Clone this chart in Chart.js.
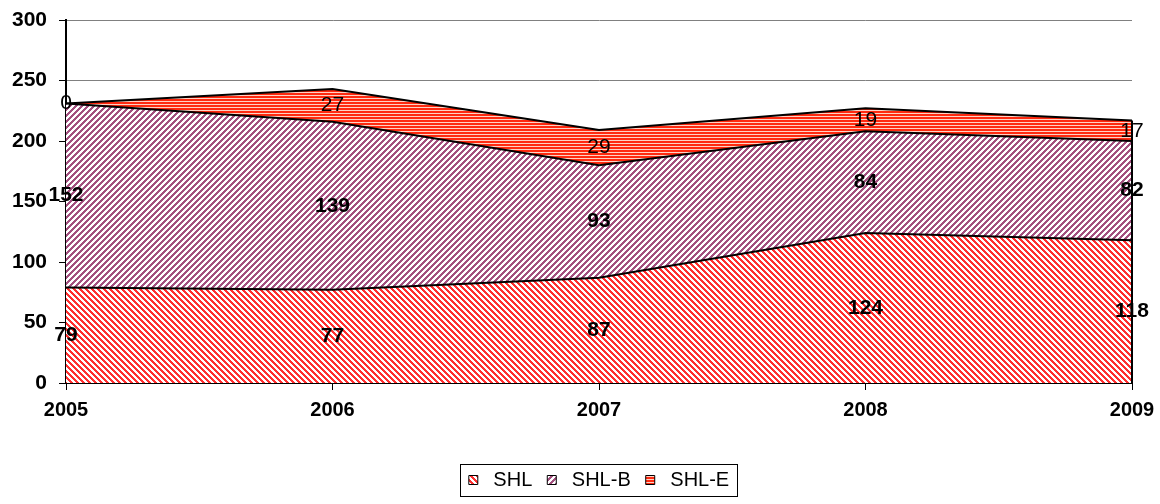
<!DOCTYPE html>
<html>
<head>
<meta charset="utf-8">
<script src="https://cdn.jsdelivr.net/npm/chart.js@4.4.1/dist/chart.umd.min.js"></script>
<style>
  html, body { margin: 0; padding: 0; background: #ffffff; }
  #wrap { width: 1160px; height: 504px; position: relative; }
</style>
</head>
<body>
<div id="wrap"><canvas id="c" width="1160" height="504"></canvas></div>
<script>
const categories = ['2005', '2006', '2007', '2008', '2009'];
const shl  = [79, 77, 87, 124, 118];
const shlB = [152, 139, 93, 84, 82];
const shlE = [0, 27, 29, 19, 17];
const seriesNames = ['SHL', 'SHL-B', 'SHL-E'];
const yTicks = [0, 50, 100, 150, 200, 250, 300];

function diagPattern(color, dir) {
  const n = 6;
  const c = document.createElement('canvas');
  c.width = n; c.height = n;
  const g = c.getContext('2d');
  g.fillStyle = '#ffffff';
  g.fillRect(0, 0, n, n);
  g.fillStyle = color;
  for (let y = 0; y < n; y++) {
    for (let x = 0; x < n; x++) {
      const k = dir > 0 ? (x + y) % n : ((x - y) % n + n) % n;
      if (k < 3) g.fillRect(x, y, 1, 1);
    }
  }
  return g.createPattern(c, 'repeat');
}
function horizPattern(fg, bg) {
  const c = document.createElement('canvas');
  c.width = 4; c.height = 3;
  const g = c.getContext('2d');
  g.fillStyle = bg; g.fillRect(0, 0, 4, 3);
  g.fillStyle = fg; g.fillRect(0, 0, 4, 2);
  return g.createPattern(c, 'repeat');
}

const patSHL = diagPattern('#ff3030', -1);
const patSHLB = diagPattern('#a3507f', 1);
const patSHLE = horizPattern('#ff2a10', '#ffd2c4');

const FONT = "'Liberation Sans', Arial, sans-serif";

const labelPlugin = {
  id: 'segLabels',
  afterDatasetsDraw(chart) {
    const ctx = chart.ctx;
    const xs = chart.scales.x, ys = chart.scales.y;
    const all = [shl, shlB, shlE];
    ctx.save();
    ctx.strokeStyle = '#000';
    ctx.lineWidth = 2;
    const li = categories.length - 1;
    const tot = shl[li] + shlB[li] + shlE[li];
    ctx.beginPath();
    ctx.moveTo(xs.getPixelForValue(li), ys.getPixelForValue(0));
    ctx.lineTo(xs.getPixelForValue(li), ys.getPixelForValue(tot));
    ctx.stroke();
    ctx.restore();

    ctx.save();
    ctx.fillStyle = '#000';
    ctx.textAlign = 'center';
    ctx.textBaseline = 'middle';
    for (let j = 0; j < categories.length; j++) {
      let base = 0;
      for (let i = 0; i < all.length; i++) {
        const v = all[i][j];
        const mid = base + v / 2;
        base += v;
        ctx.font = (i === 2 ? 'normal ' : 'bold ') + '21px ' + FONT;
        ctx.fillText(String(v), xs.getPixelForValue(j), ys.getPixelForValue(mid));
      }
    }
    ctx.restore();
  },
  afterDraw(chart) {
    const lg = chart.legend;
    if (!lg || !lg.legendHitBoxes || !lg.legendHitBoxes.length) return;
    const hb = lg.legendHitBoxes;
    let l = Infinity, r = -Infinity, t = Infinity, b = -Infinity;
    hb.forEach(h => { l = Math.min(l, h.left); r = Math.max(r, h.left + h.width); t = Math.min(t, h.top); b = Math.max(b, h.top + h.height); });
    const ctx = chart.ctx;
    ctx.save();
    ctx.strokeStyle = '#000';
    ctx.lineWidth = 1;
    ctx.strokeRect(Math.round(l - 9) + 0.5, Math.round(t - 6) + 0.5, Math.round(r - l + 17), Math.round(b - t + 12));
    ctx.restore();
  }
};

new Chart(document.getElementById('c'), {
  type: 'line',
  data: {
    labels: categories,
    datasets: [
      { label: seriesNames[0], data: shl, backgroundColor: patSHL, borderColor: '#000', borderWidth: 2, fill: 'origin', pointRadius: 0, tension: 0 },
      { label: seriesNames[1], data: shlB, backgroundColor: patSHLB, borderColor: '#000', borderWidth: 2, fill: '-1', pointRadius: 0, tension: 0 },
      { label: seriesNames[2], data: shlE, backgroundColor: patSHLE, borderColor: '#000', borderWidth: 2, fill: '-1', pointRadius: 0, tension: 0 }
    ]
  },
  options: {
    responsive: false,
    animation: false,
    devicePixelRatio: 1,
    layout: { padding: { top: 20, right: 28, bottom: 4, left: 0 } },
    plugins: {
      legend: {
        position: 'bottom',
        fullSize: false,
        labels: {
          color: '#000',
          font: { family: FONT, size: 20 },
          boxWidth: 9,
          boxHeight: 9,
          padding: 15,
          generateLabels(chart) {
            return chart.data.datasets.map((d, i) => ({
              text: ' ' + d.label, fillStyle: d.backgroundColor, strokeStyle: '#000', lineWidth: 1, datasetIndex: i, hidden: false
            }));
          }
        }
      },
      tooltip: { enabled: false }
    },
    scales: {
      x: {
        type: 'category',
        offset: false,
        afterFit(s) { s.height = 72; s.paddingLeft = 0; s.paddingRight = 0; },
        grid: { display: true, drawOnChartArea: false, drawTicks: true, tickLength: 7, tickColor: '#000' },
        border: { display: true, color: '#000', width: 2 },
        ticks: { color: '#000', font: { family: FONT, size: 20, weight: 'bold' }, padding: 8, maxRotation: 0 }
      },
      y: {
        stacked: true,
        min: 0,
        max: 300,
        afterFit(s) { s.width = 66; s.paddingTop = 0; s.paddingBottom = 0; },
        afterBuildTicks(s) { s.ticks = yTicks.map(v => ({ value: v })); },
        grid: { color: '#808080', lineWidth: 1, drawTicks: true, tickLength: 7, tickColor: '#000' },
        border: { display: true, color: '#000', width: 2 },
        ticks: { color: '#000', font: { family: FONT, size: 21, weight: 'bold' }, padding: 12 }
      }
    }
  },
  plugins: [labelPlugin]
});
</script>
</body>
</html>
